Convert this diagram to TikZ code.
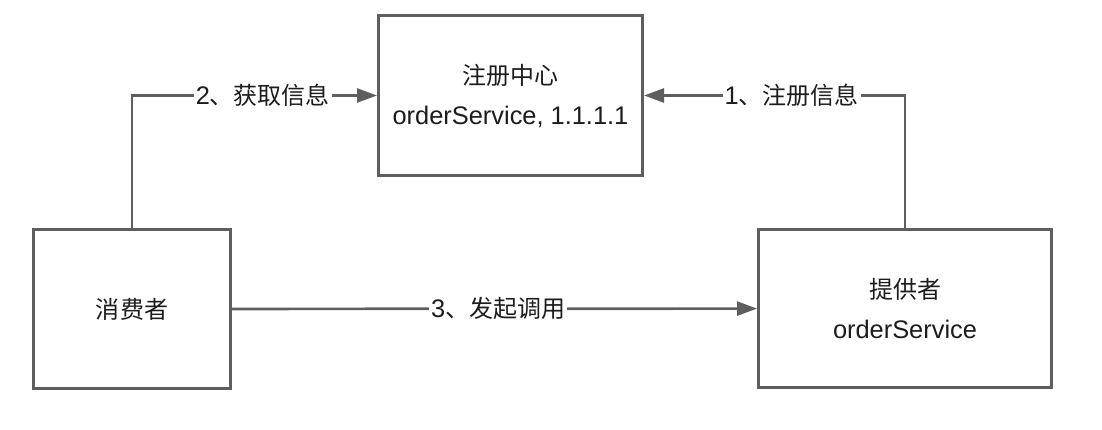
\documentclass[tikz,border=0pt]{standalone}
\usepackage{fontspec}
\setmainfont{Liberation Sans}
\newfontfamily\cjk{Noto Sans CJK SC}[Scale=0.945]
\usepackage{xcolor}
\usetikzlibrary{arrows.meta, positioning}
\definecolor{linegray}{HTML}{5E5E5E}
\definecolor{textgray}{HTML}{1C1C1C}

\begin{document}
\begin{tikzpicture}[
    x=1pt, y=1pt,
    box/.style={rectangle, draw=linegray, line width=3pt, align=center, text=textgray, font=\fontsize{25.4}{40}\selectfont, inner sep=0pt},
    msg/.style={fill=white, text=textgray, font=\fontsize{25.4}{28}\selectfont, inner sep=2pt},
    arrow/.style={draw=linegray, line width=2.7pt, -{Triangle[length=20pt, width=14pt]}}
]
\useasboundingbox (0,0) rectangle (1102,-430);

\node [box, minimum width=264pt, minimum height=160pt] (registry) at (510.5,-95.5) {{\cjk 注册中心}\\orderService, 1.1.1.1};
\node [box, minimum width=197pt, minimum height=159pt] (consumer) at (132,-309) {\cjk 消费者};
\node [box, minimum width=293pt, minimum height=158pt] (provider) at (905,-308.5) {{\cjk 提供者}\\orderService};

\draw [arrow] (consumer) |- node[msg, pos=0.767] {2{\cjk 、获取信息}} (registry);
\draw [arrow] (provider) |- node[msg, pos=0.717] {1{\cjk 、注册信息}} (registry);
\draw [arrow] (consumer) -- node[msg, pos=0.507] {3{\cjk 、发起调用}} (provider);

\end{tikzpicture}
\end{document}
